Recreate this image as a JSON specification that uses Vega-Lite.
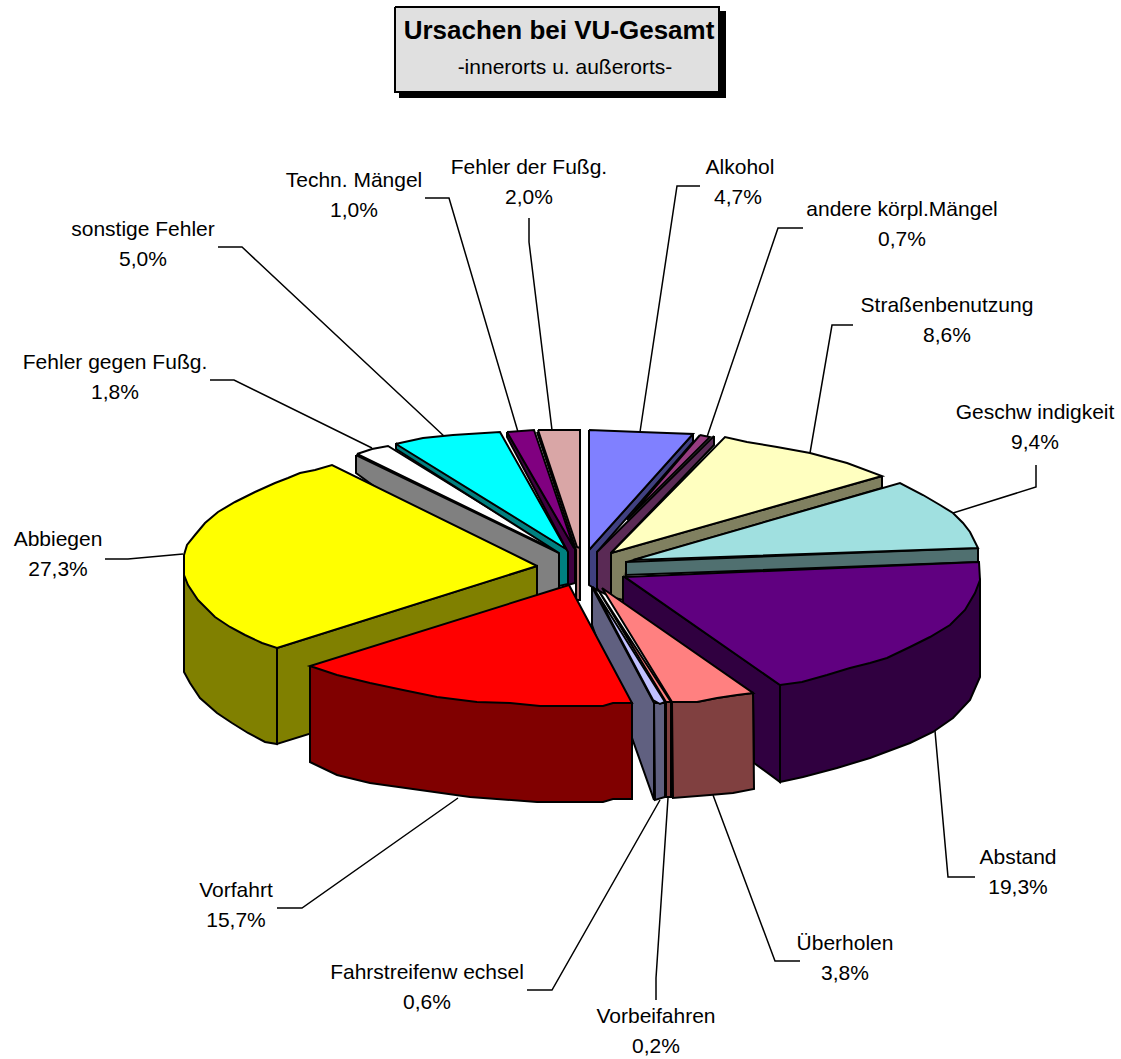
{"$schema":"https://vega.github.io/schema/vega-lite/v6.json","autosize":{"type":"fit","contains":"padding"},"padding":0,"width":1121,"height":1059,"background":"white","config":{"view":{"stroke":null}},
"datasets":{
"outlines":[
{"shape":"Schatten","n":0,"x":400,"y":12},{"shape":"Schatten","n":1,"x":725,"y":12},{"shape":"Schatten","n":2,"x":725,"y":97},{"shape":"Schatten","n":3,"x":400,"y":97},{"shape":"Schatten","n":4,"x":400,"y":12},
{"shape":"Titelfeld","n":0,"x":395,"y":7},{"shape":"Titelfeld","n":1,"x":719,"y":7},{"shape":"Titelfeld","n":2,"x":719,"y":92},{"shape":"Titelfeld","n":3,"x":395,"y":92},{"shape":"Titelfeld","n":4,"x":395,"y":7},
{"shape":"Fehler gegen Fußg. Wand","n":0,"x":356,"y":455},{"shape":"Fehler gegen Fußg. Wand","n":1,"x":559,"y":553},{"shape":"Fehler gegen Fußg. Wand","n":2,"x":559,"y":590},{"shape":"Fehler gegen Fußg. Wand","n":3,"x":530,"y":600},{"shape":"Fehler gegen Fußg. Wand","n":4,"x":356,"y":473},{"shape":"Fehler gegen Fußg. Wand","n":5,"x":356,"y":455},
{"shape":"Fehler gegen Fußg.","n":0,"x":357,"y":454},{"shape":"Fehler gegen Fußg.","n":1,"x":372,"y":449},{"shape":"Fehler gegen Fußg.","n":2,"x":388,"y":446},{"shape":"Fehler gegen Fußg.","n":3,"x":565,"y":555},{"shape":"Fehler gegen Fußg.","n":4,"x":357,"y":454},
{"shape":"sonstige Fehler Wand","n":0,"x":396,"y":443},{"shape":"sonstige Fehler Wand","n":1,"x":396,"y":449},{"shape":"sonstige Fehler Wand","n":2,"x":559,"y":553},{"shape":"sonstige Fehler Wand","n":3,"x":559,"y":586},{"shape":"sonstige Fehler Wand","n":4,"x":568,"y":584},{"shape":"sonstige Fehler Wand","n":5,"x":568,"y":550},{"shape":"sonstige Fehler Wand","n":6,"x":396,"y":443},
{"shape":"sonstige Fehler","n":0,"x":396,"y":444},{"shape":"sonstige Fehler","n":1,"x":400,"y":443},{"shape":"sonstige Fehler","n":2,"x":423,"y":438},{"shape":"sonstige Fehler","n":3,"x":453,"y":435},{"shape":"sonstige Fehler","n":4,"x":500,"y":432},{"shape":"sonstige Fehler","n":5,"x":566,"y":549},{"shape":"sonstige Fehler","n":6,"x":396,"y":444},
{"shape":"Techn. Mängel Wand","n":0,"x":507,"y":432},{"shape":"Techn. Mängel Wand","n":1,"x":507,"y":437},{"shape":"Techn. Mängel Wand","n":2,"x":568,"y":552},{"shape":"Techn. Mängel Wand","n":3,"x":568,"y":585},{"shape":"Techn. Mängel Wand","n":4,"x":575,"y":583},{"shape":"Techn. Mängel Wand","n":5,"x":575,"y":549},{"shape":"Techn. Mängel Wand","n":6,"x":507,"y":432},
{"shape":"Techn. Mängel","n":0,"x":507,"y":432},{"shape":"Techn. Mängel","n":1,"x":534,"y":430},{"shape":"Techn. Mängel","n":2,"x":574,"y":548},{"shape":"Techn. Mängel","n":3,"x":507,"y":432},
{"shape":"Fehler der Fußg. Wand","n":0,"x":537,"y":432},{"shape":"Fehler der Fußg. Wand","n":1,"x":576,"y":550},{"shape":"Fehler der Fußg. Wand","n":2,"x":576,"y":600},{"shape":"Fehler der Fußg. Wand","n":3,"x":580,"y":600},{"shape":"Fehler der Fußg. Wand","n":4,"x":580,"y":548},{"shape":"Fehler der Fußg. Wand","n":5,"x":537,"y":432},
{"shape":"Fehler der Fußg.","n":0,"x":538,"y":430},{"shape":"Fehler der Fußg.","n":1,"x":580,"y":430},{"shape":"Fehler der Fußg.","n":2,"x":580,"y":548},{"shape":"Fehler der Fußg.","n":3,"x":577,"y":547},{"shape":"Fehler der Fußg.","n":4,"x":538,"y":430},
{"shape":"Alkohol Wand","n":0,"x":693,"y":434},{"shape":"Alkohol Wand","n":1,"x":693,"y":442},{"shape":"Alkohol Wand","n":2,"x":597,"y":552},{"shape":"Alkohol Wand","n":3,"x":597,"y":590},{"shape":"Alkohol Wand","n":4,"x":589,"y":585},{"shape":"Alkohol Wand","n":5,"x":589,"y":550},{"shape":"Alkohol Wand","n":6,"x":693,"y":434},
{"shape":"Alkohol","n":0,"x":589,"y":430},{"shape":"Alkohol","n":1,"x":640,"y":432},{"shape":"Alkohol","n":2,"x":667,"y":433},{"shape":"Alkohol","n":3,"x":693,"y":434},{"shape":"Alkohol","n":4,"x":589,"y":550},{"shape":"Alkohol","n":5,"x":589,"y":430},
{"shape":"andere körpl.Mängel Wand","n":0,"x":714,"y":436},{"shape":"andere körpl.Mängel Wand","n":1,"x":714,"y":445},{"shape":"andere körpl.Mängel Wand","n":2,"x":611,"y":553},{"shape":"andere körpl.Mängel Wand","n":3,"x":611,"y":597},{"shape":"andere körpl.Mängel Wand","n":4,"x":597,"y":590},{"shape":"andere körpl.Mängel Wand","n":5,"x":597,"y":552},{"shape":"andere körpl.Mängel Wand","n":6,"x":714,"y":436},
{"shape":"andere körpl.Mängel","n":0,"x":700,"y":435},{"shape":"andere körpl.Mängel","n":1,"x":710,"y":437},{"shape":"andere körpl.Mängel","n":2,"x":627,"y":520},{"shape":"andere körpl.Mängel","n":3,"x":700,"y":435},
{"shape":"Straßenbenutzung Wand","n":0,"x":882,"y":476},{"shape":"Straßenbenutzung Wand","n":1,"x":882,"y":488},{"shape":"Straßenbenutzung Wand","n":2,"x":627,"y":562},{"shape":"Straßenbenutzung Wand","n":3,"x":623,"y":600},{"shape":"Straßenbenutzung Wand","n":4,"x":611,"y":597},{"shape":"Straßenbenutzung Wand","n":5,"x":611,"y":553},{"shape":"Straßenbenutzung Wand","n":6,"x":882,"y":476},
{"shape":"Straßenbenutzung","n":0,"x":611,"y":553},{"shape":"Straßenbenutzung","n":1,"x":725,"y":437},{"shape":"Straßenbenutzung","n":2,"x":747,"y":442},{"shape":"Straßenbenutzung","n":3,"x":777,"y":447},{"shape":"Straßenbenutzung","n":4,"x":810,"y":453},{"shape":"Straßenbenutzung","n":5,"x":847,"y":463},{"shape":"Straßenbenutzung","n":6,"x":882,"y":476},{"shape":"Straßenbenutzung","n":7,"x":611,"y":553},
{"shape":"Geschwindigkeit Wand","n":0,"x":978,"y":548},{"shape":"Geschwindigkeit Wand","n":1,"x":978,"y":562},{"shape":"Geschwindigkeit Wand","n":2,"x":626,"y":575},{"shape":"Geschwindigkeit Wand","n":3,"x":626,"y":562},{"shape":"Geschwindigkeit Wand","n":4,"x":978,"y":548},
{"shape":"Geschwindigkeit","n":0,"x":633,"y":560},{"shape":"Geschwindigkeit","n":1,"x":900,"y":483},{"shape":"Geschwindigkeit","n":2,"x":923,"y":495},{"shape":"Geschwindigkeit","n":3,"x":940,"y":505},{"shape":"Geschwindigkeit","n":4,"x":953,"y":513},{"shape":"Geschwindigkeit","n":5,"x":963,"y":523},{"shape":"Geschwindigkeit","n":6,"x":970,"y":532},{"shape":"Geschwindigkeit","n":7,"x":978,"y":548},{"shape":"Geschwindigkeit","n":8,"x":633,"y":560},
{"shape":"Abbiegen Wand innen","n":0,"x":277,"y":648},{"shape":"Abbiegen Wand innen","n":1,"x":537,"y":566},{"shape":"Abbiegen Wand innen","n":2,"x":537,"y":663},{"shape":"Abbiegen Wand innen","n":3,"x":277,"y":744},{"shape":"Abbiegen Wand innen","n":4,"x":277,"y":648},
{"shape":"Abbiegen Wand außen","n":0,"x":184,"y":575},{"shape":"Abbiegen Wand außen","n":1,"x":184,"y":672},{"shape":"Abbiegen Wand außen","n":2,"x":190,"y":683},{"shape":"Abbiegen Wand außen","n":3,"x":200,"y":698},{"shape":"Abbiegen Wand außen","n":4,"x":217,"y":713},{"shape":"Abbiegen Wand außen","n":5,"x":232,"y":723},{"shape":"Abbiegen Wand außen","n":6,"x":248,"y":733},{"shape":"Abbiegen Wand außen","n":7,"x":265,"y":742},{"shape":"Abbiegen Wand außen","n":8,"x":277,"y":744},{"shape":"Abbiegen Wand außen","n":9,"x":277,"y":648},{"shape":"Abbiegen Wand außen","n":10,"x":184,"y":575},
{"shape":"Abbiegen","n":0,"x":537,"y":566},{"shape":"Abbiegen","n":1,"x":332,"y":465},{"shape":"Abbiegen","n":2,"x":315,"y":470},{"shape":"Abbiegen","n":3,"x":300,"y":473},{"shape":"Abbiegen","n":4,"x":288,"y":478},{"shape":"Abbiegen","n":5,"x":275,"y":483},{"shape":"Abbiegen","n":6,"x":255,"y":492},{"shape":"Abbiegen","n":7,"x":235,"y":502},{"shape":"Abbiegen","n":8,"x":218,"y":512},{"shape":"Abbiegen","n":9,"x":205,"y":523},{"shape":"Abbiegen","n":10,"x":195,"y":535},{"shape":"Abbiegen","n":11,"x":187,"y":545},{"shape":"Abbiegen","n":12,"x":184,"y":555},{"shape":"Abbiegen","n":13,"x":184,"y":575},{"shape":"Abbiegen","n":14,"x":188,"y":585},{"shape":"Abbiegen","n":15,"x":198,"y":600},{"shape":"Abbiegen","n":16,"x":215,"y":617},{"shape":"Abbiegen","n":17,"x":230,"y":627},{"shape":"Abbiegen","n":18,"x":245,"y":635},{"shape":"Abbiegen","n":19,"x":262,"y":643},{"shape":"Abbiegen","n":20,"x":277,"y":648},{"shape":"Abbiegen","n":21,"x":537,"y":566},
{"shape":"Fahrstreifenwechsel Wand innen","n":0,"x":592,"y":587},{"shape":"Fahrstreifenwechsel Wand innen","n":1,"x":592,"y":625},{"shape":"Fahrstreifenwechsel Wand innen","n":2,"x":654,"y":800},{"shape":"Fahrstreifenwechsel Wand innen","n":3,"x":654,"y":703},{"shape":"Fahrstreifenwechsel Wand innen","n":4,"x":592,"y":587},
{"shape":"Fahrstreifenwechsel Wand außen","n":0,"x":654,"y":703},{"shape":"Fahrstreifenwechsel Wand außen","n":1,"x":665,"y":703},{"shape":"Fahrstreifenwechsel Wand außen","n":2,"x":665,"y":797},{"shape":"Fahrstreifenwechsel Wand außen","n":3,"x":655,"y":800},{"shape":"Fahrstreifenwechsel Wand außen","n":4,"x":654,"y":703},
{"shape":"Fahrstreifenwechsel","n":0,"x":593,"y":587},{"shape":"Fahrstreifenwechsel","n":1,"x":653,"y":700},{"shape":"Fahrstreifenwechsel","n":2,"x":660,"y":704},{"shape":"Fahrstreifenwechsel","n":3,"x":665,"y":702},{"shape":"Fahrstreifenwechsel","n":4,"x":593,"y":587},
{"shape":"Abstand Wand innen","n":0,"x":623,"y":576},{"shape":"Abstand Wand innen","n":1,"x":780,"y":685},{"shape":"Abstand Wand innen","n":2,"x":780,"y":782},{"shape":"Abstand Wand innen","n":3,"x":754,"y":763},{"shape":"Abstand Wand innen","n":4,"x":753,"y":693},{"shape":"Abstand Wand innen","n":5,"x":623,"y":603},{"shape":"Abstand Wand innen","n":6,"x":623,"y":576},
{"shape":"Abstand Wand außen","n":0,"x":780,"y":685},{"shape":"Abstand Wand außen","n":1,"x":780,"y":782},{"shape":"Abstand Wand außen","n":2,"x":803,"y":777},{"shape":"Abstand Wand außen","n":3,"x":837,"y":768},{"shape":"Abstand Wand außen","n":4,"x":870,"y":758},{"shape":"Abstand Wand außen","n":5,"x":910,"y":743},{"shape":"Abstand Wand außen","n":6,"x":933,"y":732},{"shape":"Abstand Wand außen","n":7,"x":953,"y":718},{"shape":"Abstand Wand außen","n":8,"x":970,"y":700},{"shape":"Abstand Wand außen","n":9,"x":980,"y":677},{"shape":"Abstand Wand außen","n":10,"x":980,"y":580},{"shape":"Abstand Wand außen","n":11,"x":780,"y":685},
{"shape":"Abstand","n":0,"x":625,"y":577},{"shape":"Abstand","n":1,"x":979,"y":562},{"shape":"Abstand","n":2,"x":980,"y":580},{"shape":"Abstand","n":3,"x":975,"y":593},{"shape":"Abstand","n":4,"x":965,"y":610},{"shape":"Abstand","n":5,"x":950,"y":625},{"shape":"Abstand","n":6,"x":930,"y":637},{"shape":"Abstand","n":7,"x":910,"y":647},{"shape":"Abstand","n":8,"x":887,"y":658},{"shape":"Abstand","n":9,"x":870,"y":663},{"shape":"Abstand","n":10,"x":850,"y":668},{"shape":"Abstand","n":11,"x":827,"y":675},{"shape":"Abstand","n":12,"x":802,"y":682},{"shape":"Abstand","n":13,"x":780,"y":685},{"shape":"Abstand","n":14,"x":625,"y":577},
{"shape":"Vorbeifahren Wand","n":0,"x":666,"y":702},{"shape":"Vorbeifahren Wand","n":1,"x":671,"y":702},{"shape":"Vorbeifahren Wand","n":2,"x":671,"y":797},{"shape":"Vorbeifahren Wand","n":3,"x":666,"y":797},{"shape":"Vorbeifahren Wand","n":4,"x":666,"y":702},
{"shape":"Vorbeifahren","n":0,"x":597,"y":588},{"shape":"Vorbeifahren","n":1,"x":671,"y":702},{"shape":"Vorbeifahren","n":2,"x":666,"y":702},{"shape":"Vorbeifahren","n":3,"x":597,"y":588},
{"shape":"Überholen Wand","n":0,"x":672,"y":702},{"shape":"Überholen Wand","n":1,"x":697,"y":702},{"shape":"Überholen Wand","n":2,"x":717,"y":698},{"shape":"Überholen Wand","n":3,"x":737,"y":695},{"shape":"Überholen Wand","n":4,"x":753,"y":693},{"shape":"Überholen Wand","n":5,"x":754,"y":789},{"shape":"Überholen Wand","n":6,"x":733,"y":793},{"shape":"Überholen Wand","n":7,"x":710,"y":795},{"shape":"Überholen Wand","n":8,"x":673,"y":798},{"shape":"Überholen Wand","n":9,"x":672,"y":702},
{"shape":"Überholen","n":0,"x":602,"y":588},{"shape":"Überholen","n":1,"x":753,"y":693},{"shape":"Überholen","n":2,"x":737,"y":695},{"shape":"Überholen","n":3,"x":717,"y":698},{"shape":"Überholen","n":4,"x":697,"y":702},{"shape":"Überholen","n":5,"x":672,"y":702},{"shape":"Überholen","n":6,"x":602,"y":588},
{"shape":"Vorfahrt Wand","n":0,"x":310,"y":666},{"shape":"Vorfahrt Wand","n":1,"x":310,"y":762},{"shape":"Vorfahrt Wand","n":2,"x":337,"y":775},{"shape":"Vorfahrt Wand","n":3,"x":370,"y":783},{"shape":"Vorfahrt Wand","n":4,"x":420,"y":790},{"shape":"Vorfahrt Wand","n":5,"x":470,"y":797},{"shape":"Vorfahrt Wand","n":6,"x":537,"y":802},{"shape":"Vorfahrt Wand","n":7,"x":603,"y":802},{"shape":"Vorfahrt Wand","n":8,"x":613,"y":799},{"shape":"Vorfahrt Wand","n":9,"x":632,"y":799},{"shape":"Vorfahrt Wand","n":10,"x":632,"y":703},{"shape":"Vorfahrt Wand","n":11,"x":310,"y":666},
{"shape":"Vorfahrt","n":0,"x":569,"y":585},{"shape":"Vorfahrt","n":1,"x":310,"y":666},{"shape":"Vorfahrt","n":2,"x":337,"y":675},{"shape":"Vorfahrt","n":3,"x":370,"y":683},{"shape":"Vorfahrt","n":4,"x":403,"y":690},{"shape":"Vorfahrt","n":5,"x":437,"y":697},{"shape":"Vorfahrt","n":6,"x":477,"y":702},{"shape":"Vorfahrt","n":7,"x":510,"y":703},{"shape":"Vorfahrt","n":8,"x":540,"y":706},{"shape":"Vorfahrt","n":9,"x":603,"y":706},{"shape":"Vorfahrt","n":10,"x":613,"y":703},{"shape":"Vorfahrt","n":11,"x":632,"y":703},{"shape":"Vorfahrt","n":12,"x":569,"y":585}
],
"leaders":[
{"name":"Alkohol","n":0,"x":640,"y":432},{"name":"Alkohol","n":1,"x":677,"y":186},{"name":"Alkohol","n":2,"x":700,"y":186},
{"name":"andere","n":0,"x":707,"y":437},{"name":"andere","n":1,"x":778,"y":228},{"name":"andere","n":2,"x":803,"y":228},
{"name":"Straßen","n":0,"x":810,"y":453},{"name":"Straßen","n":1,"x":832,"y":325},{"name":"Straßen","n":2,"x":853,"y":325},
{"name":"Geschw","n":0,"x":953,"y":513},{"name":"Geschw","n":1,"x":1036,"y":487},{"name":"Geschw","n":2,"x":1036,"y":465},
{"name":"Abstand","n":0,"x":935,"y":731},{"name":"Abstand","n":1,"x":948,"y":877},{"name":"Abstand","n":2,"x":975,"y":877},
{"name":"Überholen","n":0,"x":713,"y":795},{"name":"Überholen","n":1,"x":775,"y":961},{"name":"Überholen","n":2,"x":800,"y":961},
{"name":"Vorbeifahren","n":0,"x":668,"y":798},{"name":"Vorbeifahren","n":1,"x":656,"y":978},{"name":"Vorbeifahren","n":2,"x":656,"y":1000},
{"name":"Fahrstreifen","n":0,"x":660,"y":800},{"name":"Fahrstreifen","n":1,"x":552,"y":990},{"name":"Fahrstreifen","n":2,"x":527,"y":990},
{"name":"Vorfahrt","n":0,"x":458,"y":798},{"name":"Vorfahrt","n":1,"x":302,"y":908},{"name":"Vorfahrt","n":2,"x":277,"y":908},
{"name":"Abbiegen","n":0,"x":183,"y":554},{"name":"Abbiegen","n":1,"x":128,"y":559},{"name":"Abbiegen","n":2,"x":105,"y":559},
{"name":"GegenFußg","n":0,"x":372,"y":448},{"name":"GegenFußg","n":1,"x":234,"y":380},{"name":"GegenFußg","n":2,"x":210,"y":380},
{"name":"sonstige","n":0,"x":445,"y":437},{"name":"sonstige","n":1,"x":242,"y":247},{"name":"sonstige","n":2,"x":218,"y":247},
{"name":"Techn","n":0,"x":518,"y":432},{"name":"Techn","n":1,"x":449,"y":198},{"name":"Techn","n":2,"x":425,"y":198},
{"name":"DerFußg","n":0,"x":552,"y":430},{"name":"DerFußg","n":1,"x":529,"y":242},{"name":"DerFußg","n":2,"x":529,"y":218}
],
"labels":[
{"t":"Fehler der Fußg.","x":529,"y":168},{"t":"2,0%","x":529,"y":198},
{"t":"Alkohol","x":740,"y":168},{"t":"4,7%","x":738,"y":198},
{"t":"andere körpl.Mängel","x":902,"y":210},{"t":"0,7%","x":902,"y":240},
{"t":"Straßenbenutzung","x":947,"y":306},{"t":"8,6%","x":947,"y":336},
{"t":"Geschw indigkeit","x":1035,"y":413},{"t":"9,4%","x":1035,"y":443},
{"t":"Abstand","x":1018,"y":858},{"t":"19,3%","x":1018,"y":888},
{"t":"Überholen","x":845,"y":944},{"t":"3,8%","x":845,"y":974},
{"t":"Vorbeifahren","x":656,"y":1017},{"t":"0,2%","x":656,"y":1047},
{"t":"Fahrstreifenw echsel","x":427,"y":973},{"t":"0,6%","x":427,"y":1003},
{"t":"Vorfahrt","x":236,"y":891},{"t":"15,7%","x":236,"y":921},
{"t":"Abbiegen","x":58,"y":540},{"t":"27,3%","x":58,"y":570},
{"t":"Fehler gegen Fußg.","x":115,"y":363},{"t":"1,8%","x":115,"y":393},
{"t":"sonstige Fehler","x":143,"y":230},{"t":"5,0%","x":143,"y":260},
{"t":"Techn. Mängel","x":354,"y":181},{"t":"1,0%","x":354,"y":211}
],
"titles":[{"t":"-innerorts u. außerorts-","x":565,"y":68}],
"headline":[{"t":"Ursachen bei VU-Gesamt","x":559,"y":31}]
},
"layer":[
{"data":{"name":"leaders"},"mark":{"type":"line","stroke":"black","strokeWidth":1.5,"clip":false},"encoding":{"x":{"field":"x","type":"quantitative","scale":{"domain":[0,1121]},"axis":null},"y":{"field":"y","type":"quantitative","scale":{"domain":[1059,0]},"axis":null},"detail":{"field":"name"},"order":{"field":"n"}}},
{"data":{"name":"outlines"},"mark":{"type":"line","stroke":"black","strokeWidth":2,"strokeJoin":"miter"},"encoding":{"x":{"field":"x","type":"quantitative","scale":{"domain":[0,1121]},"axis":null},"y":{"field":"y","type":"quantitative","scale":{"domain":[1059,0]},"axis":null},"detail":{"field":"shape"},"order":{"field":"n"},
"fill":{"field":"shape","type":"nominal","legend":null,"scale":{
"domain":["Schatten","Titelfeld","Fehler gegen Fußg. Wand","Fehler gegen Fußg.","sonstige Fehler Wand","sonstige Fehler","Techn. Mängel Wand","Techn. Mängel","Fehler der Fußg. Wand","Fehler der Fußg.","Alkohol Wand","Alkohol","andere körpl.Mängel Wand","andere körpl.Mängel","Straßenbenutzung Wand","Straßenbenutzung","Geschwindigkeit Wand","Geschwindigkeit","Abbiegen Wand innen","Abbiegen Wand außen","Abbiegen","Fahrstreifenwechsel Wand innen","Fahrstreifenwechsel Wand außen","Fahrstreifenwechsel","Abstand Wand innen","Abstand Wand außen","Abstand","Vorbeifahren Wand","Vorbeifahren","Überholen Wand","Überholen","Vorfahrt Wand","Vorfahrt"],
"range":["#000000","#E0E0E0","#808080","#FFFFFF","#008080","#00FFFF","#400040","#800080","#A87070","#D9A6A6","#404080","#8080FF","#5A2A55","#963C80","#808060","#FFFFC0","#507070","#A0E0E0","#808000","#808000","#FFFF00","#606080","#606080","#C0C0FF","#300040","#300040","#600080","#804040","#FF8080","#804040","#FF8080","#800000","#FF0000"]}}}},
{"data":{"name":"labels"},"mark":{"type":"text","font":"Liberation Sans","fontSize":21,"align":"center","baseline":"middle","color":"black"},"encoding":{"x":{"field":"x","type":"quantitative","scale":{"domain":[0,1121]},"axis":null},"y":{"field":"y","type":"quantitative","scale":{"domain":[1059,0]},"axis":null},"text":{"field":"t"}}},
{"data":{"name":"titles"},"mark":{"type":"text","font":"Liberation Sans","fontSize":21,"align":"center","baseline":"middle","color":"black"},"encoding":{"x":{"field":"x","type":"quantitative","scale":{"domain":[0,1121]},"axis":null},"y":{"field":"y","type":"quantitative","scale":{"domain":[1059,0]},"axis":null},"text":{"field":"t"}}},
{"data":{"name":"headline"},"mark":{"type":"text","font":"Liberation Sans","fontSize":26,"fontWeight":"bold","align":"center","baseline":"middle","color":"black"},"encoding":{"x":{"field":"x","type":"quantitative","scale":{"domain":[0,1121]},"axis":null},"y":{"field":"y","type":"quantitative","scale":{"domain":[1059,0]},"axis":null},"text":{"field":"t"}}}
]}
